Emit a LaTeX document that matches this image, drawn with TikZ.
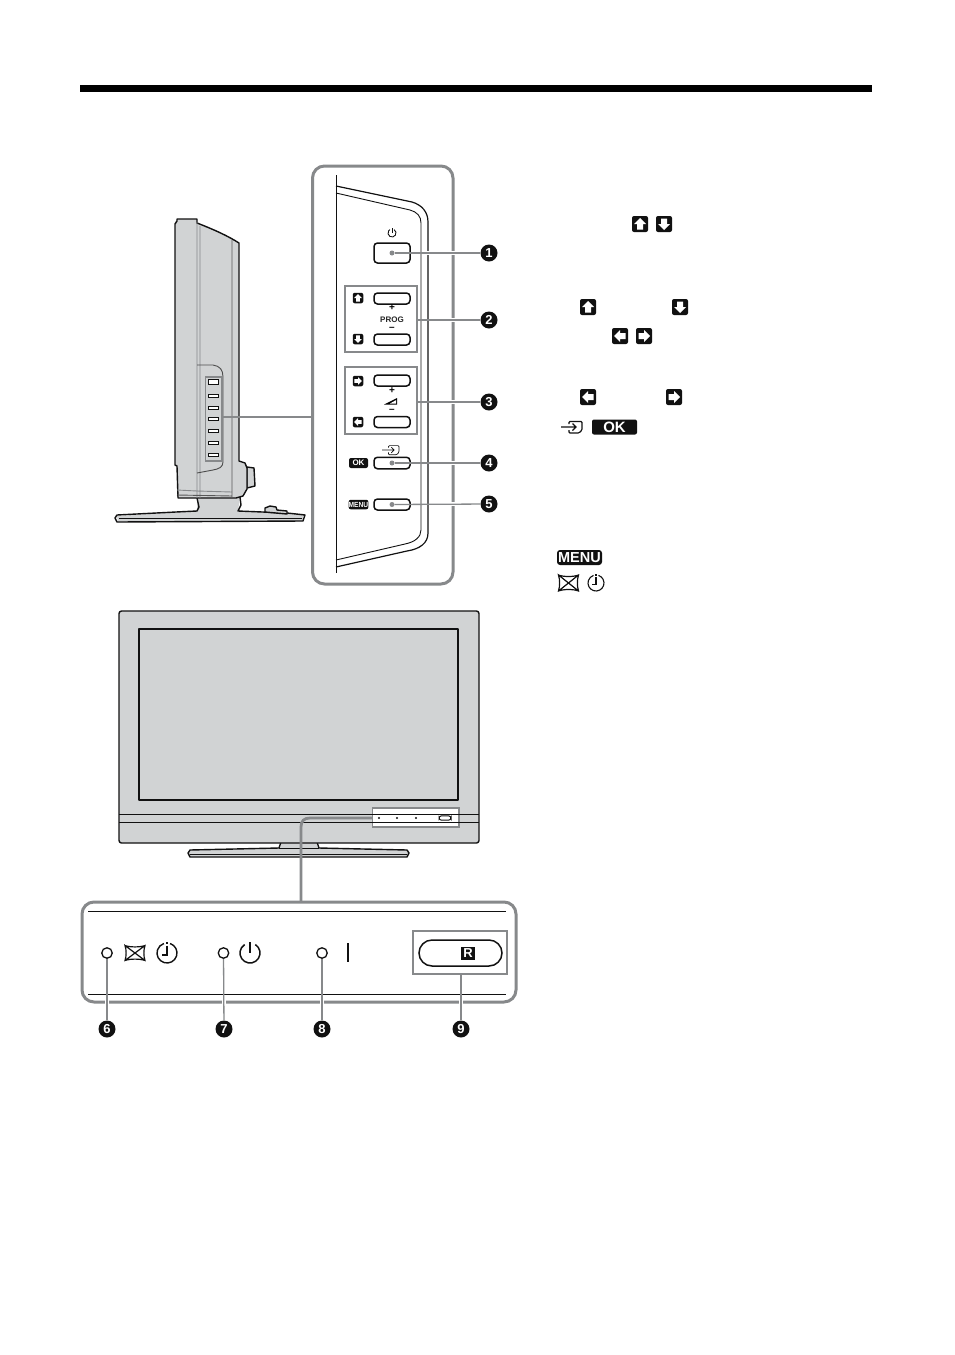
\documentclass[tikz,border=0pt]{standalone}
\usepackage{fontspec}
\setmainfont{Liberation Sans}
\usetikzlibrary{calc}
\definecolor{bodygrey}{HTML}{D1D3D4}
\definecolor{leadgrey}{HTML}{87898B}
\definecolor{inkblack}{HTML}{111111}
\tikzset{
  frame/.style={draw=leadgrey,line width=3pt,rounded corners=12pt,fill=white},
  groupbox/.style={draw=leadgrey,line width=1.5pt},
  bodyline/.style={draw=inkblack,line width=1.4pt,line join=round},
  thinline/.style={draw=inkblack,line width=.9pt},
  softline/.style={draw=leadgrey,line width=.9pt},
  leader/.style={draw=leadgrey,line width=1.3pt},
  halo/.style={draw=white,line width=4pt},
  linkline/.style={draw=leadgrey,line width=2.8pt},
  keybtn/.style={draw=inkblack,line width=1.5pt,rounded corners=3.5pt,fill=white},
  num/.style={circle,fill=inkblack,text=white,minimum size=17pt,inner sep=0pt,font=\fontsize{13}{13}\selectfont\bfseries},
  dotmark/.style={circle,fill=leadgrey,minimum size=5pt,inner sep=0pt},
  led/.style={circle,draw=inkblack,line width=1.3pt,fill=white,minimum size=10.5pt,inner sep=0pt},
  badge/.style={rectangle,fill=inkblack,rounded corners=2pt,minimum size=#1,inner sep=0pt},
  txtbadge/.style={rectangle,fill=inkblack,rounded corners=2pt,text=white,inner sep=0pt,font=\bfseries},
}
% arrow badge: name, x, y, size, rotation (0 = up; y axis is flipped, so 90 = left)
\newcommand{\arrowbadge}[5]{%
  \node[badge=#4pt] (#1) at (#2,#3) {};
  \begin{scope}[shift={(#2,#3)},rotate=#5,scale=#4/16]
    \fill[white] (0,-6) -- (6,0) -- (3,0) -- (3,5.5) -- (-3,5.5) -- (-3,0) -- (-6,0) -- cycle;
  \end{scope}}
\newcommand{\powerglyph}[4]{% x y r lw
  \begin{scope}[shift={(#1,#2)}]
    \draw[inkblack,line width=#4pt] (-58:#3) arc[start angle=-58,end angle=238,radius=#3];
    \draw[inkblack,line width=#4pt] (0,-#3-1) -- (0,0);
  \end{scope}}
\newcommand{\clockglyph}[4]{% x y r lw
  \begin{scope}[shift={(#1,#2)}]
    \draw[inkblack,line width=#4pt] (-72:#3) arc[start angle=-72,end angle=252,radius=#3];
    \draw[inkblack,line width=#4pt] (0,-.75*#3) -- (0,.2*#3) -- (-.5*#3,.2*#3);
    \draw[inkblack,line width=#4pt] (0,-1.08*#3) -- (0,-.92*#3);
  \end{scope}}
\newcommand{\pictureglyph}[4]{% x y w h
  \begin{scope}[shift={(#1,#2)},xscale=#3/2,yscale=#4/2]
    \draw[inkblack,line width=1.2pt] (-1,-1) .. controls (-.5,-.75) and (.5,-.75) .. (1,-1)
      .. controls (.85,-.4) and (.85,.4) .. (1,1)
      .. controls (.5,.75) and (-.5,.75) .. (-1,1)
      .. controls (-.85,.4) and (-.85,-.4) .. (-1,-1) -- (1,1) (1,-1) -- (-1,1);
  \end{scope}}
\newcommand{\inputglyph}[4]{% x y scale lw
  \begin{scope}[shift={(#1,#2)},scale=#3]
    \draw[inkblack,line width=#4pt,rounded corners=1pt] (-5,-3) -- (-5,-5.5) -- (8,-5.5) -- (8,3) -- (5,6) -- (-5,6) -- (-5,3);
    \draw[inkblack,line width=#4pt] (-13,0) -- (2,0) (-1.5,-3.5) -- (2,0) -- (-1.5,3.5);
  \end{scope}}
\begin{document}
\begin{tikzpicture}[x=1pt,y=-1pt]
\useasboundingbox (0,0) rectangle (954,1355);
\fill[white] (0,0) rectangle (954,1355);
\fill[black] (80,85) rectangle (872,92);

% ---------- side view ----------
\path[fill=bodygrey] (117,516) -- (197,511) -- (197,497) -- (240,497) -- (238,511) -- (303,514) -- (304,521) -- (118,522) -- cycle;
\draw[bodyline] (197,498) -- (199,507) -- (197,511) -- (176,512) -- (117,515) -- (115,518) -- (117,522) -- (303,521) -- (305,515) -- (287,513) -- (238,511) -- (241,505) -- (240,497);
\draw[thinline] (119,518) -- (302,518);
\draw[bodyline,fill=bodygrey] (265,512) -- (265,508) -- (270,506) -- (276,507) -- (277,510) -- (287,511) -- (287,514) -- cycle;
\draw[bodyline,fill=bodygrey] (247,467) -- (254,468) -- (255,486) -- (247,488) -- cycle;
\path[fill=bodygrey,bodyline] (175,224) -- (177,221) -- (177,219) -- (197,219) -- (197,223)
  .. controls (215,230) and (228,236) .. (239,243) -- (239,461) -- (245,463) -- (247,468) -- (247,489) -- (243,496) -- (236,498) -- (178,498) -- (177,466) -- (175,465) -- cycle;
\draw[softline] (197,222) -- (197,498) (200,226) -- (200,498) (177,490) -- (197,491) -- (232,492);
\draw[softline,draw=inkblack!70] (232,240) -- (232,498) (177,495) -- (232,496);
\draw[softline,draw=inkblack!75] (197,365) -- (213,365) .. controls (220,366) and (223,370) .. (223,377) -- (223,462) .. controls (223,467) and (219,469) .. (213,470) -- (197,473);
\draw[groupbox] (205.5,377) rectangle (222,461);
\foreach \yy/\hh in {382/5,396/2.5,408/2.5,419/2.5,431/2.5,443/2.5,455/2.5}{
  \draw[inkblack,line width=1.3pt,fill=white] (208.5,\yy-\hh/2) rectangle (218.5,\yy+\hh/2);
}
\coordinate (sideend) at (222,417);

% ---------- zoom panel ----------
\draw[frame] (312.5,166) rectangle (453,584);
\coordinate (framewest) at (312,417);
\draw[linkline] (sideend) -- (framewest);
\draw[thinline,line width=1pt] (336,175) -- (336,573);
\draw[thinline,line width=1.2pt] (336,186) -- (412,202) .. controls (422,205) and (428,212) .. (428,222) -- (428,533) .. controls (428,543) and (420,549) .. (407,551) -- (336,567);
\draw[thinline] (336,193) -- (410,210) .. controls (417,212) and (421,216) .. (421,223) -- (421,530) .. controls (421,537) and (415,542) .. (405,544) -- (336,560);

% halos for leaders over the frame
\draw[halo] (448,253) -- (458,253) (448,320) -- (458,320) (448,402) -- (458,402) (448,463) -- (458,463) (448,504) -- (458,504);
\draw[halo] (423,253) -- (431,253);

\draw[groupbox] (345,286) rectangle (417,352);
\draw[groupbox] (345,367) rectangle (417,434);

\node[keybtn,minimum width=36pt,minimum height=20pt] (btnpower) at (392,253) {};
\node[keybtn,minimum width=36pt,minimum height=11pt] (btnprogup) at (392,298.5) {};
\node[keybtn,minimum width=36pt,minimum height=11pt] (btnprogdn) at (392,339.5) {};
\node[keybtn,minimum width=36pt,minimum height=11pt] (btnvolup) at (392,380.5) {};
\node[keybtn,minimum width=36pt,minimum height=11pt] (btnvoldn) at (392,422) {};
\node[keybtn,minimum width=36pt,minimum height=11.5pt] (btnok) at (392,463) {};
\node[keybtn,minimum width=36pt,minimum height=11pt] (btnmenu) at (392,504.5) {};

\powerglyph{392}{233}{4}{.9}
\node[font=\fontsize{10}{10}\selectfont\bfseries,inner sep=0pt] (lplus1) at (392,308) {+};
\node[font=\fontsize{8}{8}\selectfont\bfseries,inner sep=0pt,text=black!85] (lprog) at (392,320) {PROG};
\node[font=\fontsize{10}{10}\selectfont\bfseries,inner sep=0pt] (lminus1) at (392,329) {–};
\node[font=\fontsize{10}{10}\selectfont\bfseries,inner sep=0pt] (lplus2) at (392,391) {+};
\fill[black] (384,404.5) -- (397,398) -- (397,404.5) -- cycle;
\fill[white] (390,403.5) -- (396.2,400) -- (396.2,403.5) -- cycle;
\node[font=\fontsize{10}{10}\selectfont\bfseries,inner sep=0pt] (lminus2) at (392,411) {–};
\inputglyph{392.5}{450}{.8}{.7}

\arrowbadge{bup}{358}{298}{10.5}{0}
\arrowbadge{bdn}{358}{339}{10.5}{180}
\arrowbadge{brt}{358}{381}{10.5}{-90}
\arrowbadge{blt}{358}{422}{10.5}{90}
\node[txtbadge,minimum width=19pt,minimum height=10pt,font=\fontsize{8}{8}\selectfont\bfseries] (okb) at (358.5,463) {OK};
\node[txtbadge,minimum width=19pt,minimum height=9.5pt,font=\fontsize{7.4}{7.4}\selectfont\bfseries] (menub) at (358.5,504.5) {\scalebox{.9}[1]{MENU}};

\node[num] (n1) at (489,253) {1};
\node[num] (n2) at (489,320) {2};
\node[num] (n3) at (489,402) {3};
\node[num] (n4) at (489,463) {4};
\node[num] (n5) at (489,504) {5};
\node[dotmark] (d1) at (392,253) {};
\node[dotmark] (d4) at (392,463) {};
\node[dotmark] (d5) at (392,504.5) {};
\coordinate (g2) at (417,320);
\coordinate (g3) at (417,402);
\draw[leader] (d1) -- (n1);
\draw[leader] (g2) -- (n2);
\draw[leader] (g3) -- (n3);
\draw[leader] (d4) -- (n4);
\draw[leader] (d5) -- (n5);

% ---------- right column symbols ----------
\arrowbadge{sa}{640}{224}{16}{0}
\arrowbadge{sb}{664}{224}{16}{180}
\arrowbadge{sc}{588}{307}{16}{0}
\arrowbadge{sd}{680}{307}{16}{180}
\arrowbadge{se}{620}{336}{16}{90}
\arrowbadge{sf}{644}{336}{16}{-90}
\arrowbadge{sg}{588}{397}{16}{90}
\arrowbadge{sh}{674}{397}{16}{-90}
\inputglyph{574}{427}{1}{1.1}
\node[txtbadge,minimum width=45pt,minimum height=15pt,font=\fontsize{15}{15}\selectfont\bfseries] (okbig) at (614.5,427) {OK};
\node[txtbadge,minimum width=45pt,minimum height=15pt,rounded corners=3pt,font=\fontsize{14.5}{14.5}\selectfont\bfseries] (menubig) at (579.5,557.5) {MENU};
\pictureglyph{568.5}{583}{20}{16}
\clockglyph{596}{583}{8}{1.1}

% ---------- front view ----------
\draw[bodyline,fill=bodygrey] (281,842) -- (279,848) -- (190,850) -- (188,853) -- (190,857) -- (407,857) -- (409,853) -- (407,850) -- (319,848) -- (317,842);
\draw[thinline] (279,848) -- (319,848) (190,854) -- (407,854);
\draw[bodyline,fill=bodygrey,rounded corners=2.5pt] (119,611) rectangle (479,843);
\draw[bodyline,fill=bodygrey] (139,629) rectangle (458,800);
\draw[groupbox,fill=white] (372.5,808) rectangle (459,827);
\draw[thinline,line width=1pt] (119,814) -- (479,814) (119,822) -- (479,822);
\foreach \xx in {379,397,416}{\fill[inkblack] (\xx,818) circle[radius=1.2];}
\draw[inkblack,line width=1pt,rounded corners=2.5pt,fill=white] (439,815.8) rectangle (451,820.2);
\coordinate (frontend) at (372,818);

% ---------- bottom panel ----------
\draw[frame] (82,902) rectangle (516,1002);
\coordinate (botnorth) at (301,902);
\draw[linkline] (frontend) -- (310,818) .. controls (304,818) and (301,821) .. (301,827) -- (botnorth);
\draw[thinline,line width=1pt] (88,911) -- (506,911) (88,994) -- (506,994);
\draw[halo] (107,998) -- (107,1007) (224,998) -- (224,1007) (322,998) -- (322,1007) (461,998) -- (461,1007);

\node[led] (l6) at (107,953) {};
\node[led] (l7) at (223.5,953) {};
\node[led] (l8) at (322,953) {};
\pictureglyph{135}{953}{20}{15}
\clockglyph{167}{953}{10}{1.4}
\powerglyph{250}{953}{10}{1.5}
\draw[inkblack,line width=2.4pt] (348,943) -- (348,962);
\draw[groupbox] (413,931) rectangle (507,974);
\node[draw=inkblack,line width=1.5pt,fill=white,rounded corners=13pt,minimum width=83pt,minimum height=26pt,inner sep=0pt] (rbtn) at (460.5,953) {};
\node[fill=inkblack,text=white,inner sep=0pt,minimum width=14pt,minimum height=13pt,font=\fontsize{13}{13}\selectfont\bfseries] (rb) at (468,953) {R};
\coordinate (g9) at (461,974);
\node[num] (n6) at (107,1029) {6};
\node[num] (n7) at (224,1029) {7};
\node[num] (n8) at (322,1029) {8};
\node[num] (n9) at (461,1029) {9};
\draw[leader] (l6) -- (n6);
\draw[leader] (l7) -- (n7);
\draw[leader] (l8) -- (n8);
\draw[leader] (g9) -- (n9);
\end{tikzpicture}
\end{document}
